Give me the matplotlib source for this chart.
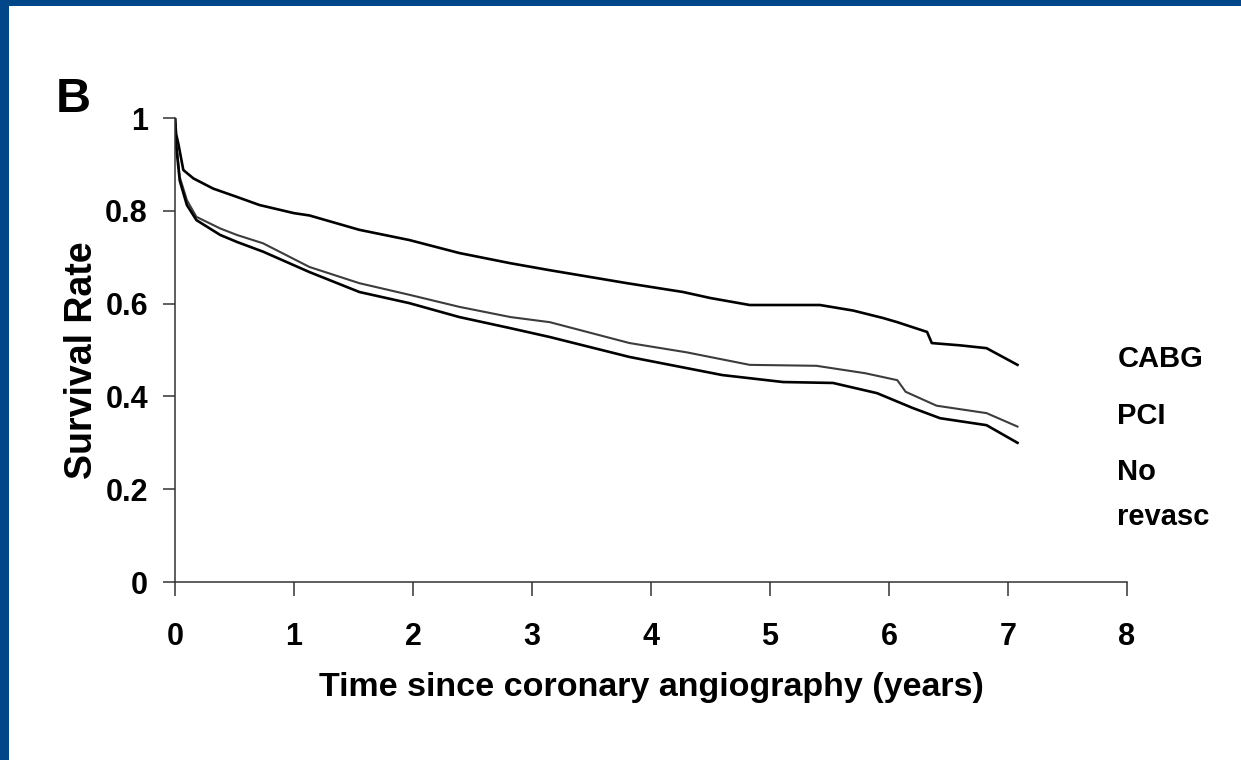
import matplotlib.pyplot as plt
from matplotlib.patches import Rectangle

plt.rcParams['font.family'] = ['Liberation Sans', 'DejaVu Sans']
plt.rcParams['font.weight'] = 'bold'

# survival curves (years, survival rate)
cabg_t = [0, 0.01, 0.028, 0.07, 0.154, 0.32, 0.52, 0.71, 1.0, 1.13, 1.55, 1.97, 2.39, 2.82, 3.15,
          3.8, 4.27, 4.5, 4.83, 5.42, 5.7, 5.95, 6.07, 6.32, 6.36, 6.6, 6.82, 7.08]
cabg_s = [1.0, 0.965, 0.945, 0.888, 0.87, 0.848, 0.83, 0.8125, 0.795, 0.79, 0.759, 0.737, 0.709, 0.687, 0.672,
          0.644, 0.625, 0.612, 0.597, 0.597, 0.585, 0.569, 0.56, 0.539, 0.515, 0.51, 0.504, 0.468]

pci_t = [0, 0.01, 0.04, 0.1, 0.18, 0.38, 0.52, 0.74, 1.13, 1.55, 1.97, 2.39, 2.82, 3.15,
         3.82, 4.3, 4.83, 5.39, 5.8, 6.07, 6.14, 6.4, 6.82, 7.08]
pci_s = [1.0, 0.95, 0.873, 0.823, 0.787, 0.762, 0.748, 0.73, 0.679, 0.644, 0.619, 0.593, 0.571, 0.56,
         0.515, 0.495, 0.468, 0.466, 0.45, 0.435, 0.41, 0.38, 0.364, 0.335]

norev_t = [0, 0.01, 0.04, 0.1, 0.18, 0.38, 0.52, 0.74, 1.13, 1.55, 1.97, 2.39, 2.82, 3.15,
           3.82, 4.6, 5.11, 5.53, 5.9, 6.2, 6.43, 6.82, 7.08]
norev_s = [1.0, 0.94, 0.865, 0.8125, 0.78, 0.748, 0.733, 0.712, 0.668, 0.625, 0.601, 0.571, 0.547, 0.528,
           0.485, 0.446, 0.431, 0.429, 0.407, 0.375, 0.353, 0.338, 0.30]

x_ticks = [0, 1, 2, 3, 4, 5, 6, 7, 8]
y_ticks = [0, 0.2, 0.4, 0.6, 0.8, 1]
y_ticklabels = ['0', '0.2', '0.4', '0.6', '0.8', '1']

fig = plt.figure(figsize=(12.41, 7.6), dpi=100)
ax = fig.add_axes([0.141, 0.2342, 0.7671, 0.6105])

ax.plot(cabg_t, cabg_s, color='black', lw=1.9)
ax.plot(pci_t, pci_s, color='#3c3c3c', lw=1.5)
ax.plot(norev_t, norev_s, color='black', lw=1.9)

ax.set_xlim(0, 8)
ax.set_ylim(0, 1)
ax.set_xticks(x_ticks)
ax.set_yticks(y_ticks)
ax.set_yticklabels(y_ticklabels)
for s in ['top', 'right']:
    ax.spines[s].set_visible(False)
for s in ['left', 'bottom']:
    ax.spines[s].set_color('#333333')
    ax.spines[s].set_linewidth(1.1)
ax.tick_params(axis='x', length=10, width=1.1, color='#333333', pad=19, labelsize=22)
ax.tick_params(axis='y', length=8.5, width=1.1, color='#333333', pad=11, labelsize=22)

ax.set_xlabel('Time since coronary angiography (years)', fontsize=24.5, fontweight='bold', labelpad=14)
ax.set_ylabel('Survival Rate', fontsize=27, fontweight='bold')
ax.yaxis.set_label_coords(-0.079, 0.478)

# group labels on the right
ax.text(7.92, 0.48, 'CABG', fontsize=21, fontweight='bold', ha='left', va='center', clip_on=False)
ax.text(7.92, 0.358, 'PCI', fontsize=21, fontweight='bold', ha='left', va='center', clip_on=False)
ax.text(7.92, 0.237, 'No', fontsize=21, fontweight='bold', ha='left', va='center', clip_on=False)
ax.text(7.92, 0.123, 'revasc', fontsize=21, fontweight='bold', ha='left', va='baseline', clip_on=False)

# panel letter
fig.text(0.045, 0.852, 'B', fontsize=35, fontweight='bold', ha='left', va='baseline')

# blue frame (left and top edges)
fig.patches.append(Rectangle((0, 0), 9 / 1241, 1, transform=fig.transFigure,
                             facecolor='#00478a', edgecolor='none'))
fig.patches.append(Rectangle((0, 1 - 6 / 760), 1, 6 / 760, transform=fig.transFigure,
                             facecolor='#00478a', edgecolor='none'))

fig.savefig('out.png', dpi=100)
